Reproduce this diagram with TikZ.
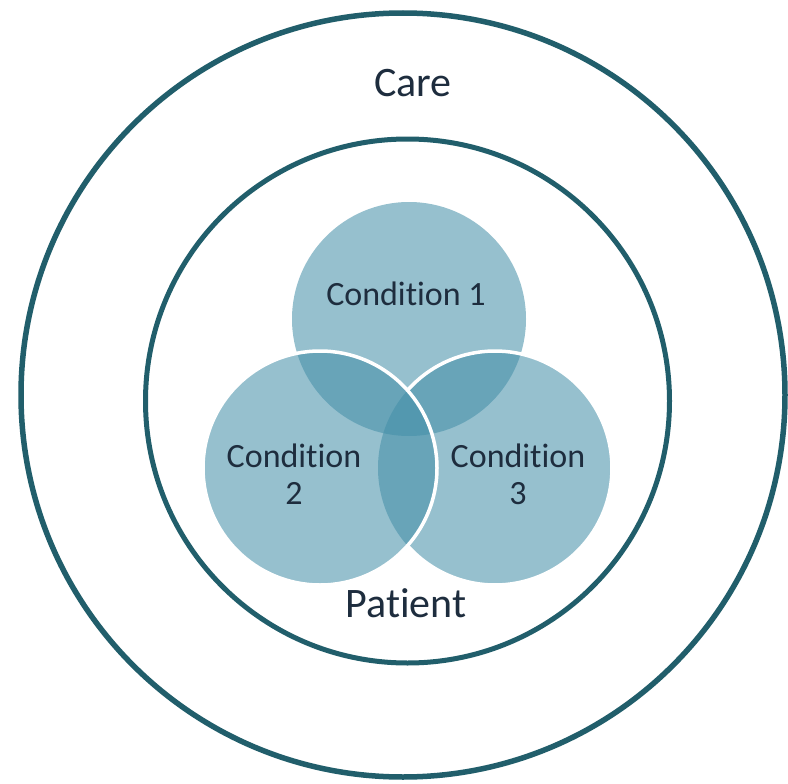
\documentclass[tikz,border=0pt]{standalone}
\usepackage{fontspec}
\setmainfont{Carlito}[Ligatures=NoCommon]
\definecolor{ringc}{RGB}{33,94,107}
\definecolor{vennc}{RGB}{68,143,168}
\definecolor{txtc}{RGB}{30,45,62}
\begin{document}
\begin{tikzpicture}[x=1pt,y=-1pt,
  ringline/.style={draw=ringc},
  vennfill/.style={fill=vennc,fill opacity=0.56},
  edgeline/.style={draw=white,line width=3.5pt},
  condtext/.style={text=txtc,font=\fontsize{34}{37}\selectfont,align=center,inner sep=0pt},
  bigtext/.style={text=txtc,font=\fontsize{42}{46}\selectfont,inner sep=0pt}]
\useasboundingbox (0,0) rectangle (788,784);
\fill[white] (0,0) rectangle (788,784);
% rings
\draw[ringline,line width=5.5pt] (403,395) circle[radius=382];
\draw[ringline,line width=5pt] (407.5,401) circle[radius=262];
% venn fills
\path[vennfill] (409,319) circle[radius=117];
\path[vennfill] (495,468) circle[radius=117];
\path[vennfill] (320,468) circle[radius=117];
% white edges
\draw[edgeline] (495,468) ++(-138.4:117) arc[start angle=-138.4,end angle=138.4,radius=117];
\draw[edgeline] (320,468) circle[radius=117];
% texts
\node[bigtext,anchor=base] (care) at (413,97) {Care};
\node[bigtext,anchor=base] (patient) at (406,617) {Patient};
\node[condtext,anchor=base] (c1) at (406,305) {Condition 1};
\node[condtext,anchor=center] (c2) at (294,474.5) {Condition\\2};
\node[condtext,anchor=center] (c3) at (518,474.5) {Condition\\3};
\end{tikzpicture}
\end{document}
